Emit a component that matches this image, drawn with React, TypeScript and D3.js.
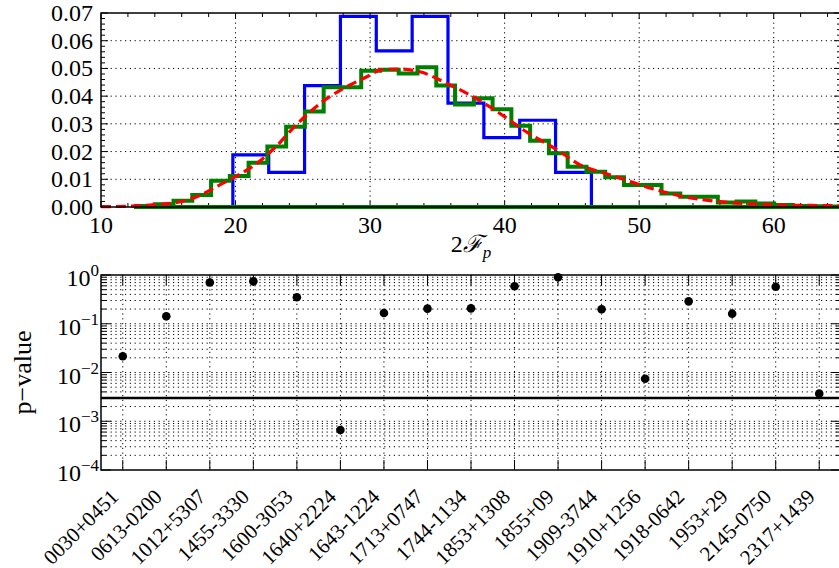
import React from "react";
import * as d3 from "d3";

// ---- data ----
const blueStart = 19.8;
const blueWidth = 2.665;
const blueValues = [0.0188, 0.0125, 0.0438, 0.0688, 0.0563, 0.0688, 0.0375, 0.025, 0.0313, 0.0125];

const greenStart = 12.6;
const greenWidth = 1.395;
const greenValues = [
  0.0004, 0.001, 0.0023, 0.0043, 0.0095, 0.0112, 0.016, 0.0218, 0.029, 0.0345,
  0.0432, 0.0432, 0.0492, 0.0495, 0.0482, 0.0504, 0.0438, 0.037, 0.0392, 0.0353,
  0.0293, 0.0239, 0.0194, 0.01455, 0.0127, 0.0107, 0.0079, 0.0079, 0.0049, 0.0037,
  0.0037, 0.0016, 0.002, 0.0013, 0.0007, 0.0004, 0.0003, 0.0002,
];

const curveX = [10, 12, 13.6, 15.9, 17.4, 18.8, 20.1, 21.6, 23.0, 24.5, 26.3, 27.8, 30.0, 30.7, 32.0, 33.7, 35.7, 37.2, 40.0, 41.4, 44.1, 45.6, 47.1, 48.6, 50.3, 51.8, 53.3, 55.0, 56.7, 58.5, 60.2, 61.9, 63.9, 65];
const curveY = [0.0001, 0.0003, 0.0007, 0.0019, 0.0043, 0.0079, 0.0112, 0.0158, 0.0218, 0.0296, 0.0374, 0.0422, 0.0476, 0.0494, 0.0498, 0.0488, 0.0446, 0.041, 0.0326, 0.0278, 0.02, 0.0152, 0.0127, 0.0104, 0.0076, 0.0055, 0.0037, 0.0025, 0.0016, 0.0011, 0.0007, 0.0006, 0.0005, 0.0004];

const pulsars = [
  "0030+0451", "0613-0200", "1012+5307", "1455-3330", "1600-3053", "1640+2224",
  "1643-1224", "1713+0747", "1744-1134", "1853+1308", "1855+09", "1909-3744",
  "1910+1256", "1918-0642", "1953+29", "2145-0750", "2317+1439",
];
const pValues = [0.0215, 0.142, 0.70, 0.74, 0.35, 0.00066, 0.166, 0.204, 0.207, 0.586, 0.90, 0.198, 0.00746, 0.288, 0.161, 0.576, 0.00368];
const threshold = 0.003;

const xTicksTop = [10, 20, 30, 40, 50, 60];
const yTicksTop = [0, 0.01, 0.02, 0.03, 0.04, 0.05, 0.06, 0.07];
const yTickLabelsTop = ["0.00", "0.01", "0.02", "0.03", "0.04", "0.05", "0.06", "0.07"];
const logTicks = [1e-4, 1e-3, 1e-2, 1e-1, 1];
const logTickExp = ["\u22124", "\u22123", "\u22122", "\u22121", "0"];

const W = 839;
const H = 568;
const FONT = "'Liberation Serif', 'DejaVu Serif', serif";

export default function App() {
  // ---- dimensions ----
  const left = 101;
  const right = 841;
  const top1 = 13;
  const bottom1 = 207;
  const top2 = 275;
  const bottom2 = 470;

  // ---- scales ----
  const x1 = d3.scaleLinear().domain([10, 65]).range([left, right]);
  const y1 = d3.scaleLinear().domain([0, 0.07]).range([bottom1, top1]);
  const x2 = d3.scalePoint<string>().domain(pulsars).range([left, right]).padding(0.5);
  const y2 = d3.scaleLog().domain([1e-4, 1]).range([bottom2, top2]);

  const stepPath = (start: number, width: number, vals: number[]) => {
    const edges = vals.map((_, i) => start + i * width);
    const end = start + vals.length * width;
    let p = `M${x1(start)},${y1(0)}`;
    vals.forEach((v, i) => {
      p += `L${x1(edges[i])},${y1(v)}L${x1(edges[i] + width)},${y1(v)}`;
    });
    p += `L${x1(end)},${y1(0)}Z`;
    return p;
  };

  const redLine = d3
    .line<number>()
    .x((_, i) => x1(curveX[i]))
    .y((d) => y1(d))
    .curve(d3.curveMonotoneX)(curveY) as string;

  const minorX1 = d3.range(10, 66, 2);
  const minorY1 = d3.range(0, 0.0701, 0.002);
  const minorLog: number[] = [];
  for (let e = -4; e < 0; e++) {
    for (let m = 2; m <= 9; m++) minorLog.push(m * Math.pow(10, e));
  }

  const grid = { stroke: "#000", strokeWidth: 1, strokeDasharray: "1.2,3.6" };

  return (
    <svg width={W} height={H} style={{ position: "absolute", left: 0, top: 0, background: "#fff" }} fontFamily={FONT}>
      <rect width={W} height={H} fill="#fff" />

      {/* ---- top panel ---- */}
      <g>
        {xTicksTop.slice(1).map((t) => (
          <line key={"gx" + t} x1={x1(t)} x2={x1(t)} y1={top1} y2={bottom1} {...grid} />
        ))}
        {yTicksTop.slice(1, -1).map((t) => (
          <line key={"gy" + t} x1={left} x2={right} y1={y1(t)} y2={y1(t)} {...grid} />
        ))}
        {minorX1.map((t) => (
          <g key={"mx" + t} stroke="#000" strokeWidth={1}>
            <line x1={x1(t)} x2={x1(t)} y1={bottom1} y2={bottom1 - (t % 10 === 0 ? 6 : 4)} />
            <line x1={x1(t)} x2={x1(t)} y1={top1} y2={top1 + (t % 10 === 0 ? 6 : 4)} />
          </g>
        ))}
        {minorY1.map((t, i) => (
          <g key={"my" + i} stroke="#000" strokeWidth={1}>
            <line x1={left} x2={left + (i % 5 === 0 ? 7 : 4)} y1={y1(t)} y2={y1(t)} />
            <line x1={right} x2={right - (i % 5 === 0 ? 7 : 4)} y1={y1(t)} y2={y1(t)} />
          </g>
        ))}

        <path d={stepPath(blueStart, blueWidth, blueValues)} fill="none" stroke="#0000ff" strokeWidth={3.2} />
        <path d={stepPath(greenStart, greenWidth, greenValues)} fill="none" stroke="#008000" strokeWidth={4} />
        <path d={redLine} fill="none" stroke="#ff0000" strokeWidth={3.2} strokeDasharray="10,5" />

        <rect x={left} y={top1} width={right - left} height={bottom1 - top1} fill="none" stroke="#000" strokeWidth={1.5} />

        {yTicksTop.map((t, i) => (
          <text key={"yl" + t} x={93} y={y1(t) + 8} textAnchor="end" fontSize={24}>
            {yTickLabelsTop[i]}
          </text>
        ))}
        {xTicksTop.map((t) => (
          <text key={"xl" + t} x={x1(t)} y={233} textAnchor="middle" fontSize={24}>
            {t}
          </text>
        ))}
        <text x={(left + right) / 2} y={252} textAnchor="middle" fontSize={24}>
          2<tspan fontStyle="italic">{"\u2131"}</tspan>
          <tspan fontStyle="italic" fontSize={17} dy={6}>p</tspan>
        </text>
      </g>

      {/* ---- bottom panel ---- */}
      <g>
        {minorLog.map((t, i) => (
          <line key={"mg" + i} x1={left} x2={right} y1={y2(t)} y2={y2(t)} {...grid} />
        ))}
        {logTicks.slice(1, -1).map((t) => (
          <line key={"Mg" + t} x1={left} x2={right} y1={y2(t)} y2={y2(t)} {...grid} />
        ))}
        {pulsars.map((p) => (
          <line key={"vg" + p} x1={x2(p)} x2={x2(p)} y1={top2} y2={bottom2} {...grid} />
        ))}
        {pulsars.map((p) => (
          <g key={"vt" + p} stroke="#000" strokeWidth={1}>
            <line x1={x2(p)} x2={x2(p)} y1={bottom2} y2={bottom2 - 10} />
            <line x1={x2(p)} x2={x2(p)} y1={top2} y2={top2 + 10} />
          </g>
        ))}
        {logTicks.map((t) => (
          <g key={"lt" + t} stroke="#000" strokeWidth={1}>
            <line x1={left} x2={left + 10} y1={y2(t)} y2={y2(t)} />
            <line x1={right} x2={right - 10} y1={y2(t)} y2={y2(t)} />
          </g>
        ))}
        {minorLog.map((t, i) => (
          <g key={"lm" + i} stroke="#000" strokeWidth={1}>
            <line x1={left} x2={left + 5} y1={y2(t)} y2={y2(t)} />
            <line x1={right} x2={right - 5} y1={y2(t)} y2={y2(t)} />
          </g>
        ))}

        <line x1={left} x2={right} y1={y2(threshold)} y2={y2(threshold)} stroke="#000" strokeWidth={2.5} />

        {pValues.map((v, i) => (
          <circle key={"pt" + i} cx={x2(pulsars[i])} cy={y2(v)} r={4.3} fill="#000" />
        ))}

        <rect x={left} y={top2} width={right - left} height={bottom2 - top2} fill="none" stroke="#000" strokeWidth={1.5} />

        {logTicks.map((t, i) => (
          <text key={"ll" + t} x={99} y={y2(t) + 11} textAnchor="end" fontSize={24}>
            10<tspan fontSize={17} dy={-10}>{logTickExp[i]}</tspan>
          </text>
        ))}
        <text transform={`translate(31,${(top2 + bottom2) / 2}) rotate(-90)`} textAnchor="middle" fontSize={26}>
          p{"\u2212"}value
        </text>
        {pulsars.map((p) => (
          <text
            key={"xl" + p}
            transform={`translate(${(x2(p) as number) - 3},${bottom2 + 28}) rotate(-45)`}
            textAnchor="end"
            fontSize={21}
          >
            {p}
          </text>
        ))}
      </g>
    </svg>
  );
}
